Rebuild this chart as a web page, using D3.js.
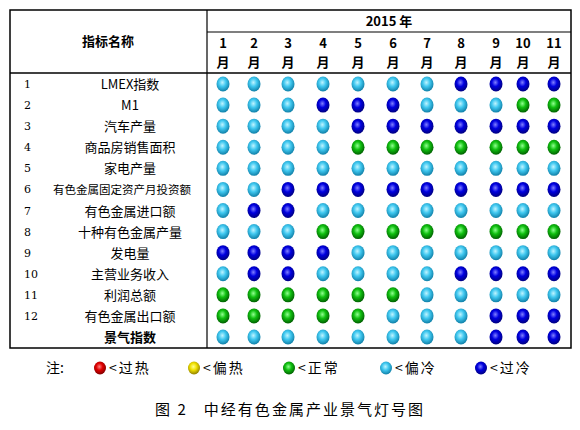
<!DOCTYPE html><html><head><meta charset="utf-8"><script src="https://d3js.org/d3.v7.min.js"></script>
<style>body{margin:0;background:#fff}</style></head><body><svg id="c" width="580" height="430"></svg>
<script>
const months=["1","2","3","4","5","6","7","8","9","10","11"];
const indicators=["LMEX指数","M1","汽车产量","商品房销售面积","家电产量","有色金属固定资产月投资额","有色金属进口额","十种有色金属产量","发电量","主营业务收入","利润总额","有色金属出口额","景气指数"];
const signals=["CCCCCCCBBBB","CCCBBBCCCGG","CCCCBBBBBBB","CCCCGGGGGGG","CCCCCCCCCCC","CCBBBBBBBBB","CBBCCCCCCCC","CCCGGGGGGGG","BBBBCCCCCCC","CBBCCCCBBBB","GGGGGGCCCCC","GGGGGCCCBBB","CCCCCCCCBBB"];
const legend=[["R","<过热"],["Y","<偏热"],["G","<正常"],["C","<偏冷"],["B","<过冷"]];
const colors={R:["#ff8080","#e00000","#800000"],Y:["#ffff90","#f0e000","#908000"],G:["#90ff90","#10c010","#006000"],C:["#c0f4ff","#40c8f0","#1080a8"],B:["#8080ff","#0000e0","#000080"]};
const svg=d3.select("#c");
const defs=svg.append("defs");
Object.entries(colors).forEach(([k,c])=>{const g=defs.append("radialGradient").attr("id","g"+k).attr("cx","45%").attr("cy","40%").attr("r","60%");
g.append("stop").attr("offset","0%").attr("stop-color",c[0]);g.append("stop").attr("offset","45%").attr("stop-color",c[1]);g.append("stop").attr("offset","100%").attr("stop-color",c[2]);});
const font="'Noto Sans CJK SC','DejaVu Serif',serif";
const xs=[223,254,288,323,358,393,427,461,496,523,554];
const y=d3.scalePoint().domain(indicators.map((d,i)=>i)).range([84,337]);
const L=10,R=571,T=10,B=348;
svg.append("rect").attr("x",L).attr("y",T).attr("width",R-L).attr("height",B-T).attr("fill","none").attr("stroke","#000").attr("stroke-width",1.5);
svg.append("line").attr("x1",207).attr("x2",207).attr("y1",T).attr("y2",B).attr("stroke","#000").attr("stroke-width",1.2);
svg.append("line").attr("x1",207).attr("x2",R).attr("y1",32).attr("y2",32).attr("stroke","#000").attr("stroke-width",1.2);
svg.append("line").attr("x1",L).attr("x2",R).attr("y1",73).attr("y2",73).attr("stroke","#000").attr("stroke-width",1.5);
svg.append("text").attr("x",389).attr("y",26).attr("text-anchor","middle").attr("font-family",font).attr("font-weight","bold").attr("font-size",13).text("2015 年");
svg.append("text").attr("x",108).attr("y",46).attr("text-anchor","middle").attr("font-family",font).attr("font-weight","bold").attr("font-size",13).text("指标名称");
months.forEach((m,i)=>{const cx=xs[i];
svg.append("text").attr("x",cx).attr("y",48).attr("text-anchor","middle").attr("font-family",font).attr("font-weight","bold").attr("font-size",13).text(m);
svg.append("text").attr("x",cx).attr("y",67).attr("text-anchor","middle").attr("font-family",font).attr("font-weight","bold").attr("font-size",13).text("月");});
indicators.forEach((n,i)=>{const cy=y(i);
if(i<12)svg.append("text").attr("x",24).attr("y",cy+4).attr("font-family","'DejaVu Serif',serif").attr("font-size",11).text(i+1);
svg.append("text").attr("x",i==5?122:130).attr("y",cy+5).attr("text-anchor","middle").attr("font-family",font).attr("font-size",i==5?11.5:13).attr("font-weight",i==12?"bold":"normal").text(n);
signals[i].split("").forEach((s,j)=>{svg.append("ellipse").attr("cx",xs[j]).attr("cy",cy).attr("rx",6.5).attr("ry",7.5).attr("fill","url(#g"+s+")");});
});
svg.append("text").attr("x",46).attr("y",373).attr("font-family",font).attr("font-size",14).text("注:");
const lx=[100,194,289,386,481];
legend.forEach(([k,t],i)=>{svg.append("ellipse").attr("cx",lx[i]).attr("cy",368).attr("rx",6).attr("ry",6.5).attr("fill","url(#g"+k+")");
svg.append("text").attr("x",lx[i]+9).attr("y",373).attr("font-family",font).attr("font-size",14).attr("letter-spacing",2).text(t);});
svg.append("text").attr("x",290).attr("y",415).attr("text-anchor","middle").attr("font-family",font).attr("font-size",15).attr("letter-spacing",2).text("图 2\u00a0\u00a0\u00a0中经有色金属产业景气灯号图");
</script></body></html>
